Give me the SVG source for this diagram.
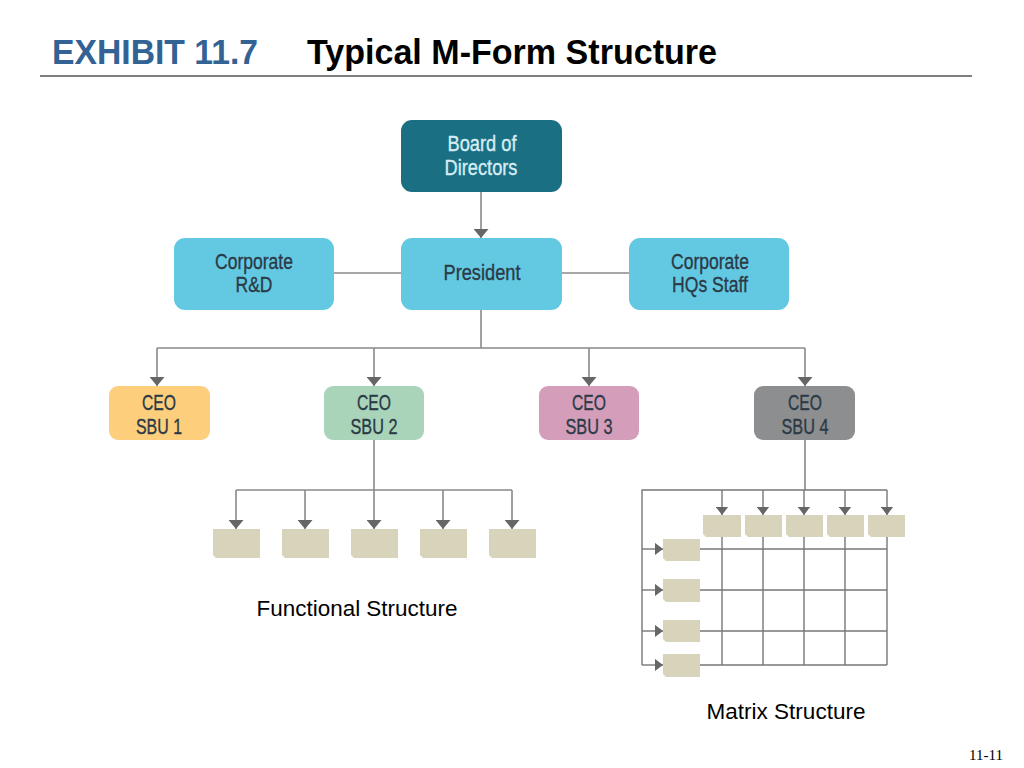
<svg xmlns="http://www.w3.org/2000/svg" width="1024" height="768" viewBox="0 0 1024 768">
<style>
.t{font-family:"Liberation Sans",Arial,sans-serif;font-size:22px;text-anchor:middle;fill:#2b3a45;stroke:#2b3a45;stroke-width:0.35}
.w{fill:#d6edf4;stroke:#d6edf4}
.ln{stroke:#8a8a8a;stroke-width:1.6;fill:none}
.g{stroke:#777;stroke-width:1.4;fill:none}
.sb{fill:#d8d4bc}
.lab{font-family:"Liberation Sans",Arial,sans-serif;font-size:22.5px;fill:#000;text-anchor:middle}
</style>
<defs>
<marker id="arr" viewBox="0 0 10 10" refX="10" refY="5" markerUnits="userSpaceOnUse" markerWidth="9" markerHeight="15" orient="auto" preserveAspectRatio="none"><path d="M0,0 L10,5 L0,10 Z" fill="#666"/></marker>
<marker id="arrS" viewBox="0 0 10 10" refX="10" refY="5" markerUnits="userSpaceOnUse" markerWidth="8.5" markerHeight="13" orient="auto" preserveAspectRatio="none"><path d="M0,0 L10,5 L0,10 Z" fill="#666"/></marker>
</defs>
<rect width="1024" height="768" fill="#fff"/>
<g id="title">
<text x="52" y="64" font-family="Liberation Sans,Arial,sans-serif" font-weight="bold" font-size="35" fill="#336294" textLength="206" lengthAdjust="spacingAndGlyphs">EXHIBIT 11.7</text>
<text x="307" y="64" font-family="Liberation Sans,Arial,sans-serif" font-weight="bold" font-size="35" fill="#000" textLength="410" lengthAdjust="spacingAndGlyphs">Typical M-Form Structure</text>
<line x1="40" y1="76" x2="972" y2="76" stroke="#555" stroke-width="1.3"/>
</g>
<g id="connectors">
<line class="ln" x1="481" y1="192" x2="481" y2="238" marker-end="url(#arr)"/>
<line class="ln" x1="334" y1="273" x2="401" y2="273"/>
<line class="ln" x1="562" y1="273" x2="629" y2="273"/>
<line class="ln" x1="481" y1="310" x2="481" y2="348"/>
<line class="ln" x1="157" y1="348" x2="805" y2="348"/>
<line class="ln" x1="157" y1="348" x2="157" y2="386" marker-end="url(#arr)"/>
<line class="ln" x1="374" y1="348" x2="374" y2="386" marker-end="url(#arr)"/>
<line class="ln" x1="589" y1="348" x2="589" y2="386" marker-end="url(#arr)"/>
<line class="ln" x1="805" y1="348" x2="805" y2="386" marker-end="url(#arr)"/>
<line class="ln" x1="374" y1="440" x2="374" y2="529" marker-end="url(#arr)"/>
<line class="ln" x1="236" y1="490" x2="512" y2="490"/>
<line class="ln" x1="236" y1="490" x2="236" y2="529" marker-end="url(#arr)"/>
<line class="ln" x1="305" y1="490" x2="305" y2="529" marker-end="url(#arr)"/>
<line class="ln" x1="443" y1="490" x2="443" y2="529" marker-end="url(#arr)"/>
<line class="ln" x1="512" y1="490" x2="512" y2="529" marker-end="url(#arr)"/>
<line class="g" x1="805" y1="440" x2="805" y2="490"/>
<path class="g" d="M642,665 V490 H887"/>
<line class="g" x1="722" y1="490" x2="722" y2="515" marker-end="url(#arrS)"/>
<line class="g" x1="763" y1="490" x2="763" y2="515" marker-end="url(#arrS)"/>
<line class="g" x1="804" y1="490" x2="804" y2="515" marker-end="url(#arrS)"/>
<line class="g" x1="845" y1="490" x2="845" y2="515" marker-end="url(#arrS)"/>
<line class="g" x1="887" y1="490" x2="887" y2="515" marker-end="url(#arrS)"/>
<line class="g" x1="642" y1="549" x2="663" y2="549" marker-end="url(#arrS)"/>
<line class="g" x1="642" y1="590" x2="663" y2="590" marker-end="url(#arrS)"/>
<line class="g" x1="642" y1="631" x2="663" y2="631" marker-end="url(#arrS)"/>
<line class="g" x1="642" y1="665" x2="663" y2="665" marker-end="url(#arrS)"/>
<path class="g" d="M700,549 H887 M700,590 H887 M700,631 H887 M700,665 H887 M722,537 V665 M763,537 V665 M804,537 V665 M845,537 V665 M887,537 V665"/>
</g>
<g id="board"><rect x="401" y="120" width="161" height="72" rx="11" fill="#1b6f82"/><text class="t w" x="482" y="151" textLength="69" lengthAdjust="spacingAndGlyphs">Board of</text><text class="t w" x="481" y="175" textLength="73" lengthAdjust="spacingAndGlyphs">Directors</text></g>
<g id="president"><rect x="401" y="238" width="161" height="72" rx="11" fill="#63c9e3"/><text class="t" x="482" y="280" textLength="77" lengthAdjust="spacingAndGlyphs">President</text></g>
<g id="rnd"><rect x="174" y="238" width="160" height="72" rx="11" fill="#63c9e3"/><text class="t" x="254" y="269" textLength="78" lengthAdjust="spacingAndGlyphs">Corporate</text><text class="t" x="254" y="292" textLength="37" lengthAdjust="spacingAndGlyphs">R&amp;D</text></g>
<g id="hqs"><rect x="629" y="238" width="160" height="72" rx="11" fill="#63c9e3"/><text class="t" x="710" y="269" textLength="78" lengthAdjust="spacingAndGlyphs">Corporate</text><text class="t" x="710" y="292" textLength="76" lengthAdjust="spacingAndGlyphs">HQs Staff</text></g>
<g id="sbu1"><rect x="109" y="386" width="101" height="54" rx="9" fill="#fdcf7c"/><text class="t" x="159" y="410" textLength="34" lengthAdjust="spacingAndGlyphs">CEO</text><text class="t" x="159" y="434" textLength="46" lengthAdjust="spacingAndGlyphs">SBU 1</text></g>
<g id="sbu2"><rect x="324" y="386" width="100" height="54" rx="9" fill="#a9d4ba"/><text class="t" x="374" y="410" textLength="34" lengthAdjust="spacingAndGlyphs">CEO</text><text class="t" x="374" y="434" textLength="47" lengthAdjust="spacingAndGlyphs">SBU 2</text></g>
<g id="sbu3"><rect x="539" y="386" width="100" height="54" rx="9" fill="#d49eba"/><text class="t" x="589" y="410" textLength="34" lengthAdjust="spacingAndGlyphs">CEO</text><text class="t" x="589" y="434" textLength="47" lengthAdjust="spacingAndGlyphs">SBU 3</text></g>
<g id="sbu4"><rect x="754" y="386" width="101" height="54" rx="9" fill="#8c8e90"/><text class="t" x="805" y="410" textLength="34" lengthAdjust="spacingAndGlyphs">CEO</text><text class="t" x="805" y="434" textLength="47" lengthAdjust="spacingAndGlyphs">SBU 4</text></g>
<g id="functional">
<path class="sb" d="M213,529 h47 v29 h-44 l-3,-3 z"/>
<path class="sb" d="M282,529 h47 v29 h-44 l-3,-3 z"/>
<path class="sb" d="M351,529 h47 v29 h-44 l-3,-3 z"/>
<path class="sb" d="M420,529 h47 v29 h-44 l-3,-3 z"/>
<path class="sb" d="M489,529 h47 v29 h-44 l-3,-3 z"/>
</g>
<g id="matrix">
<path class="sb" d="M703,515 h38 v22 h-35 l-3,-3 z"/>
<path class="sb" d="M745,515 h37 v22 h-34 l-3,-3 z"/>
<path class="sb" d="M786,515 h37 v22 h-34 l-3,-3 z"/>
<path class="sb" d="M827,515 h37 v22 h-34 l-3,-3 z"/>
<path class="sb" d="M868,515 h37 v22 h-34 l-3,-3 z"/>
<path class="sb" d="M663,539 h37 v22 h-34 l-3,-3 z"/>
<path class="sb" d="M663,579 h37 v23 h-34 l-3,-3 z"/>
<path class="sb" d="M663,620 h37 v22 h-34 l-3,-3 z"/>
<path class="sb" d="M663,654 h37 v23 h-34 l-3,-3 z"/>
</g>
<g id="labels">
<text class="lab" x="357" y="616" textLength="201" lengthAdjust="spacingAndGlyphs">Functional Structure</text>
<text class="lab" x="786" y="719" textLength="159" lengthAdjust="spacingAndGlyphs">Matrix Structure</text>
<text x="1003" y="760" font-family="Liberation Serif,serif" font-size="15" text-anchor="end" fill="#000">11-11</text>
</g>
</svg>
